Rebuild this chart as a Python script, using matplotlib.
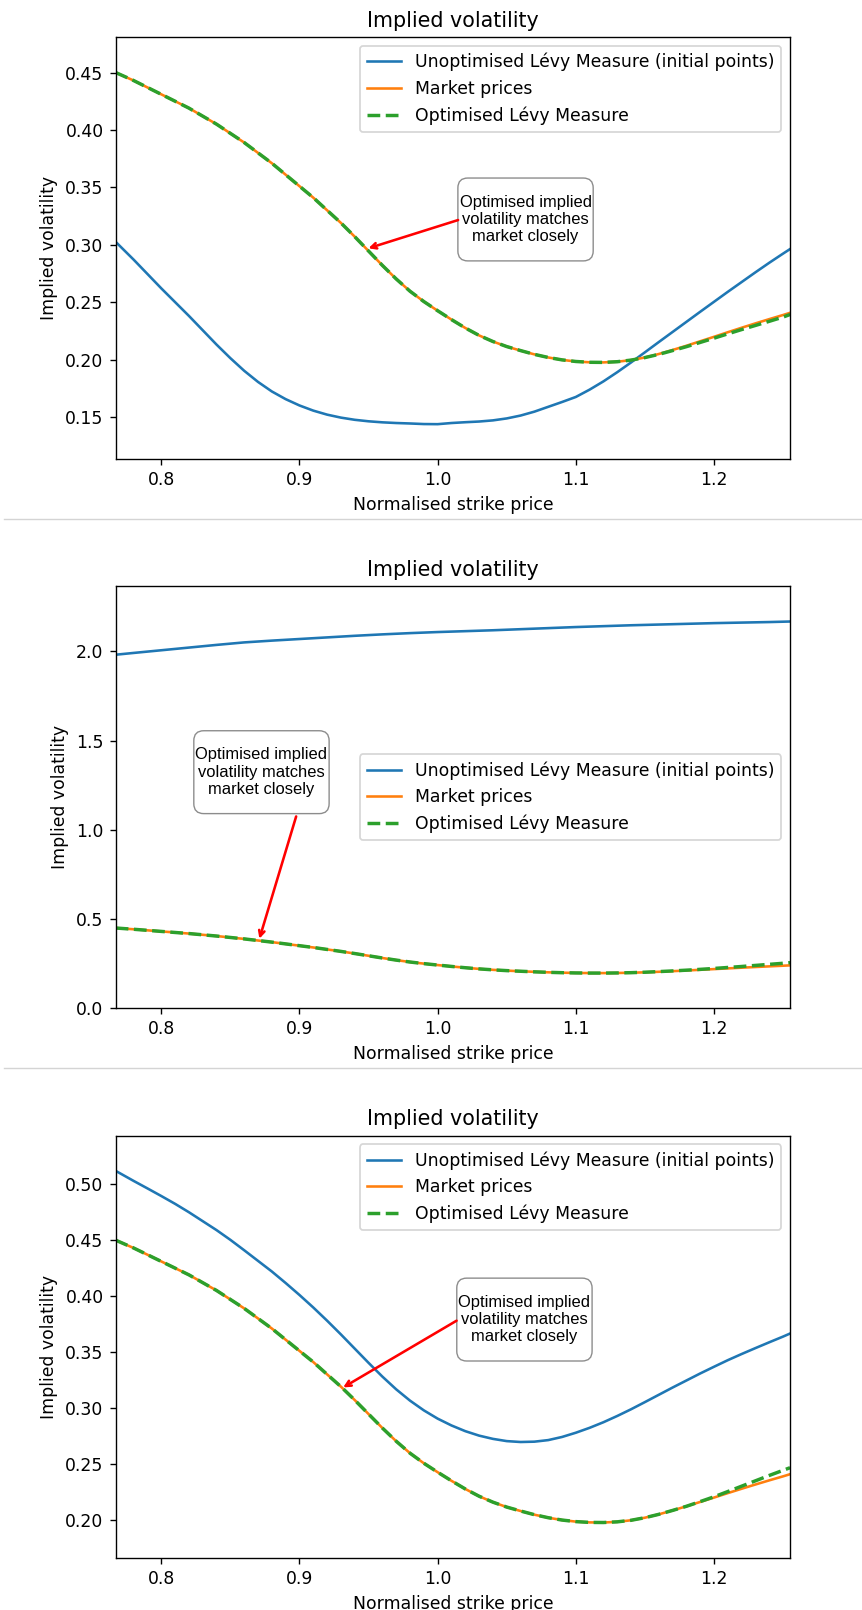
import matplotlib
matplotlib.use("Agg")
import matplotlib.pyplot as plt
from matplotlib.lines import Line2D
from matplotlib.patches import BoxStyle

# strike grid (normalised)
strikes = [0.767, 0.78, 0.79, 0.80, 0.81, 0.82, 0.83, 0.84, 0.85, 0.86, 0.87, 0.88, 0.89,
           0.90, 0.91, 0.92, 0.93, 0.94, 0.95, 0.96, 0.97, 0.98, 0.99, 1.00, 1.01, 1.02,
           1.03, 1.04, 1.05, 1.06, 1.07, 1.08, 1.09, 1.10, 1.11, 1.12, 1.13, 1.14, 1.15,
           1.16, 1.17, 1.18, 1.19, 1.20, 1.21, 1.22, 1.23, 1.24, 1.25, 1.255]

market_iv = [0.450, 0.443, 0.437, 0.431, 0.425, 0.419, 0.412, 0.405, 0.397, 0.389, 0.380, 0.371, 0.361,
             0.351, 0.341, 0.330, 0.319, 0.307, 0.2945, 0.282, 0.2702, 0.2595, 0.2505, 0.2425, 0.2348, 0.2275,
             0.2210, 0.2157, 0.2113, 0.2078, 0.2045, 0.2018, 0.1997, 0.1983, 0.1976, 0.1975, 0.1981, 0.1995, 0.2018,
             0.2048, 0.2083, 0.2120, 0.2159, 0.2198, 0.2238, 0.2277, 0.2315, 0.2352, 0.2388, 0.2407]

# run 1
unopt_iv_1 = [0.3025, 0.287, 0.2745, 0.262, 0.250, 0.238, 0.2255, 0.213, 0.2012, 0.1902, 0.1805, 0.1722, 0.1655,
              0.1600, 0.1555, 0.1520, 0.1494, 0.1475, 0.1462, 0.1453, 0.1447, 0.1443, 0.1438, 0.1437, 0.1447, 0.1454,
              0.1460, 0.1470, 0.1487, 0.1512, 0.1546, 0.1588, 0.1630, 0.1674, 0.1738, 0.1810, 0.1890, 0.1975, 0.2063,
              0.2152, 0.2240, 0.2328, 0.2416, 0.2503, 0.2590, 0.2675, 0.2760, 0.2843, 0.2923, 0.2962]
opt_iv_1 = [0.450, 0.443, 0.437, 0.431, 0.425, 0.419, 0.412, 0.405, 0.397, 0.389, 0.380, 0.371, 0.361,
            0.351, 0.341, 0.330, 0.319, 0.307, 0.2945, 0.282, 0.2702, 0.2595, 0.2505, 0.2425, 0.2348, 0.2275,
            0.2210, 0.2157, 0.2113, 0.2078, 0.2045, 0.2018, 0.1997, 0.1983, 0.1976, 0.1975, 0.1981, 0.1995, 0.2017,
            0.2045, 0.2078, 0.2112, 0.2149, 0.2186, 0.2224, 0.2261, 0.2297, 0.2333, 0.2370, 0.2392]

# run 2
unopt_iv_2 = [1.981, 1.991, 1.9985, 2.006, 2.0135, 2.021, 2.0285, 2.036, 2.043, 2.050, 2.055, 2.060, 2.0645,
              2.069, 2.0735, 2.078, 2.0825, 2.087, 2.091, 2.095, 2.0985, 2.102, 2.105, 2.108, 2.1105, 2.113,
              2.1155, 2.118, 2.121, 2.124, 2.127, 2.130, 2.133, 2.136, 2.1385, 2.141, 2.1435, 2.146, 2.148,
              2.150, 2.152, 2.154, 2.156, 2.158, 2.1595, 2.161, 2.1625, 2.164, 2.166, 2.167]
opt_iv_2 = [0.450, 0.443, 0.437, 0.431, 0.425, 0.419, 0.412, 0.405, 0.397, 0.389, 0.380, 0.371, 0.361,
            0.351, 0.341, 0.330, 0.319, 0.307, 0.2945, 0.282, 0.2702, 0.2595, 0.2505, 0.2425, 0.2348, 0.2275,
            0.2210, 0.2157, 0.2113, 0.2078, 0.2045, 0.2018, 0.1997, 0.1983, 0.1976, 0.1975, 0.1983, 0.1998, 0.2024,
            0.2058, 0.2096, 0.2138, 0.2184, 0.2235, 0.2290, 0.2345, 0.2405, 0.2465, 0.2525, 0.2560]

# run 3
unopt_iv_3 = [0.512, 0.503, 0.4963, 0.4895, 0.4825, 0.475, 0.467, 0.459, 0.4503, 0.441, 0.4315, 0.422, 0.4117,
              0.401, 0.3898, 0.378, 0.3657, 0.353, 0.3403, 0.328, 0.3166, 0.3065, 0.2978, 0.2904, 0.2843, 0.2792,
              0.2752, 0.2723, 0.2703, 0.2695, 0.2698, 0.2712, 0.2740, 0.2778, 0.2822, 0.2872, 0.2928, 0.2988, 0.3052,
              0.3117, 0.3182, 0.3245, 0.3308, 0.3368, 0.3427, 0.3482, 0.3535, 0.3587, 0.3638, 0.3665]
opt_iv_3 = [0.450, 0.443, 0.437, 0.431, 0.425, 0.419, 0.412, 0.405, 0.397, 0.389, 0.380, 0.371, 0.361,
            0.351, 0.341, 0.330, 0.319, 0.307, 0.2945, 0.282, 0.2702, 0.2595, 0.2505, 0.2425, 0.2348, 0.2275,
            0.2210, 0.2157, 0.2113, 0.2078, 0.2045, 0.2018, 0.1997, 0.1983, 0.1976, 0.1975, 0.1981, 0.1995, 0.2018,
            0.2048, 0.2083, 0.2120, 0.2162, 0.2205, 0.2252, 0.2300, 0.2348, 0.2396, 0.2442, 0.2465]

note = "Optimised implied\nvolatility matches\nmarket closely"

# (text centre, arrow start, arrow tip) per panel, in data coords
notes = [
    ((1.0636, 0.3220), (1.0148, 0.3215), (0.9499, 0.2969)),
    ((0.8725, 1.323), (0.8976, 1.075), (0.871, 0.39)),
    ((1.0628, 0.379), (1.0137, 0.378), (0.9316, 0.3183)),
]
legend_locs = ["upper right", "center right", "upper right"]
ylim_bottom = [None, 0.0, None]


def note_box(x0, y0, width, height, mutation_size):
    # narrow on the sides, tall above/below
    padx = 0.1 * mutation_size
    pady = 1.0 * mutation_size
    return BoxStyle.Round(pad=0, rounding_size=0.6)(x0 - padx, y0 - pady, width + 2 * padx,
                                                    height + 2 * pady, mutation_size)


dpi = 124
fig = plt.figure(figsize=(862 / dpi, 1610 / dpi), dpi=dpi)

left, width, height = 0.1342, 0.7823, 0.2621
bottoms = [0.7147, 0.3737, 0.0325]
runs = [(unopt_iv_1, opt_iv_1), (unopt_iv_2, opt_iv_2), (unopt_iv_3, opt_iv_3)]

for i, (unopt, opt) in enumerate(runs):
    ax = fig.add_axes([left, bottoms[i], width, height])
    ax.plot(strikes, unopt, label="Unoptimised Lévy Measure (initial points)")
    ax.plot(strikes, market_iv, label="Market prices")
    ax.plot(strikes, opt, "--", lw=2, label="Optimised Lévy Measure")
    ax.margins(x=0, y=0.1)
    if ylim_bottom[i] is not None:
        ax.set_ylim(bottom=ylim_bottom[i])
    ax.set_title("Implied volatility")
    ax.set_xlabel("Normalised strike price")
    ax.set_ylabel("Implied volatility")
    ax.legend(loc=legend_locs[i])

    (tx, ty), start, tip = notes[i]
    ax.text(tx, ty, note, ha="center", va="center", multialignment="center",
            fontsize=9.6, family=["Liberation Sans", "DejaVu Sans"],
            bbox=dict(boxstyle=note_box, fc="white", ec="#8c8c8c", lw=0.8))
    ax.annotate("", xy=tip, xytext=start,
                arrowprops=dict(arrowstyle="->", color="red", lw=1.5,
                                shrinkA=0, shrinkB=0, mutation_scale=8))

# thin separators between the three outputs
for y in [0.6776, 0.3366]:
    fig.add_artist(Line2D([0.005, 1.0], [y, y], transform=fig.transFigure,
                          color="#d4d4d4", lw=0.8))

fig.savefig("out.png", dpi=dpi)
